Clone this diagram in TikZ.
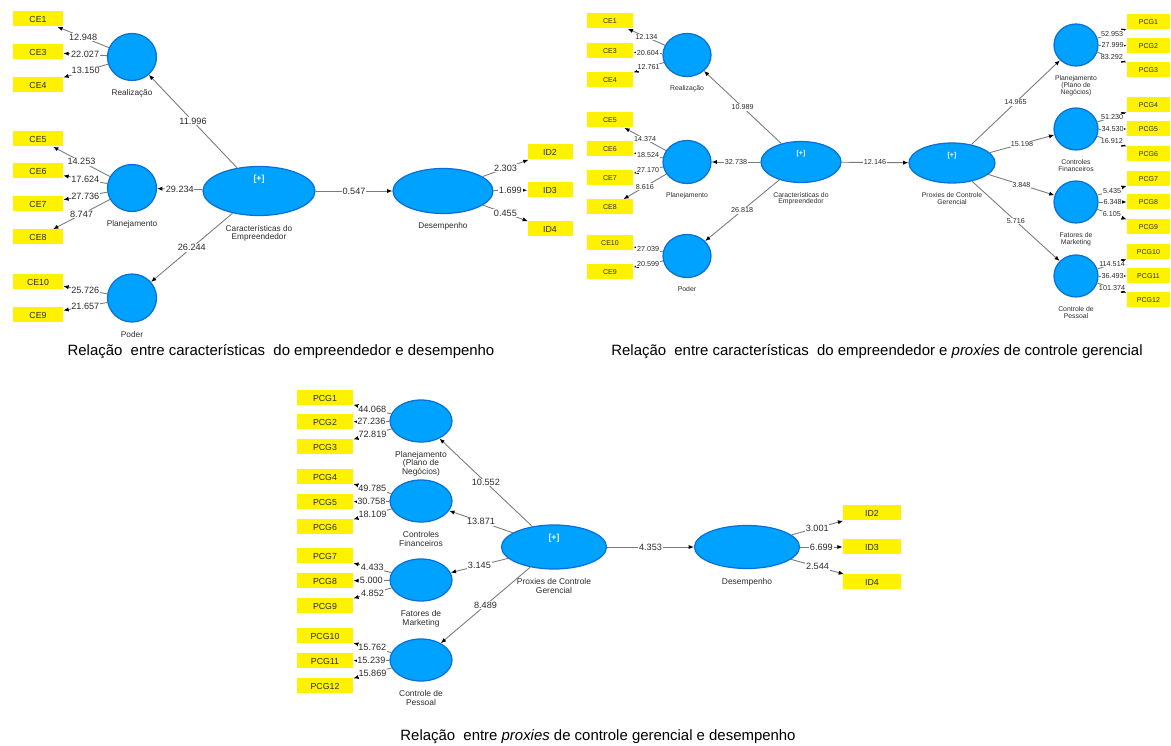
\documentclass[tikz,border=0pt]{standalone}
\usepackage{fontspec}
\setmainfont{Liberation Sans}
\usetikzlibrary{arrows.meta,shapes.geometric}
\definecolor{lvBlue}{HTML}{00A2FF}
\definecolor{lvEdge}{HTML}{0A6FD6}
\definecolor{indYellow}{HTML}{FFF200}
\definecolor{pathGray}{HTML}{7A7A7A}
\definecolor{txtGray}{HTML}{2B2B2B}

\begin{document}
\begin{tikzpicture}[x=0.02cm, y=-0.02cm,
    lv/.style 2 args={ellipse, draw=lvEdge, fill=lvBlue, line width=0.7pt, minimum width=#1*0.02cm, minimum height=#2*0.02cm, inner sep=0pt},
    ind/.style 2 args={fill=indYellow, minimum width=#1*0.02cm, minimum height=15*0.02cm, inner sep=0pt, text=txtGray, font=\fontsize{#2}{#2}\selectfont},
    num/.style={fill=white, inner sep=0.4pt, text=txtGray, font=\fontsize{#1}{#1}\selectfont},
    lvlab/.style={align=center, text=txtGray, label distance=1.5pt, font=\fontsize{#1}{#1pt+1.6pt}\selectfont},
    plus/.style={anchor=north, yshift=-2pt, text=white, font=\bfseries\fontsize{#1}{#1}\selectfont},
    load/.style={draw=pathGray, line width=0.5pt, -{Latex[length=3pt,width=2.4pt,color=black]}},
    caption/.style={font=\fontsize{8.5}{10}\selectfont}]
  \useasboundingbox (0,0) rectangle (1171,746);

  % caracteristicas -> desempenho
  \foreach \n/\t/\y in {ce1/CE1/19, ce3/CE3/52, ce4/CE4/85, ce5/CE5/139, ce6/CE6/171, ce7/CE7/204, ce8/CE8/237, ce10/CE10/282, ce9/CE9/315}
    \node[ind={50}{5}] (a-\n) at (38,\y) {\t};
  \node[lv={49}{47}, label={[lvlab=4.7]below:Realização}] (a-real) at (132,57) {};
  \node[lv={49}{47}, label={[lvlab=4.7]below:Planejamento}] (a-plan) at (132,188) {};
  \node[lv={49}{48}, label={[lvlab=4.7]below:Poder}] (a-pod) at (132,298) {};
  \node[lv={112}{49}, label={[plus=5]north:{[+]}}, label={[lvlab=4.7]below:{Características do\\Empreendedor}}] (a-car) at (259,191) {};
  \node[lv={100}{45}, label={[lvlab=4.7]below:Desempenho}] (a-des) at (443,191) {};
  \foreach \n/\t/\y in {id2/ID2/152, id3/ID3/190, id4/ID4/229}
    \node[ind={45}{5}] (a-\n) at (550,\y) {\t};
  \foreach \a/\b/\v in {car/real/11.996, car/plan/29.234, car/pod/26.244, car/des/0.547,
      real/ce1/12.948, real/ce3/22.027, real/ce4/13.150,
      plan/ce5/14.253, plan/ce6/17.624, plan/ce7/27.736, plan/ce8/8.747,
      pod/ce10/25.726, pod/ce9/21.657,
      des/id2/2.303, des/id3/1.699, des/id4/0.455}
    \draw[load] (a-\a) -- node[num=5.2] {\v} (a-\b);
  \node[caption] (cap1) at (281,352) {Relação \ entre características \ do empreendedor e desempenho};

  % caracteristicas -> proxies
  \foreach \n/\t/\y in {ce1/CE1/21, ce3/CE3/51, ce4/CE4/80, ce5/CE5/120, ce6/CE6/149, ce7/CE7/178, ce8/CE8/207, ce10/CE10/243, ce9/CE9/272}
    \node[ind={46}{4}] (b-\n) at (610,\y) {\t};
  \node[lv={48}{43}, label={[lvlab=3.9]below:Realização}] (b-real) at (687,55) {};
  \node[lv={48}{43}, label={[lvlab=3.9]below:Planejamento}] (b-plan) at (687,162) {};
  \node[lv={48}{43}, label={[lvlab=3.9]below:Poder}] (b-pod) at (687,256) {};
  \node[lv={80}{41}, label={[plus=4]north:{[+]}}, label={[lvlab=3.9]below:{Características do\\Empreendedor}}] (b-car) at (801,162) {};
  \node[lv={86}{40}, label={[plus=4]north:{[+]}}, label={[lvlab=3.9]below:{Proxies de Controle\\Gerencial}}] (b-prx) at (952,163) {};
  \node[lv={44}{42}, label={[lvlab=3.9]below:{Planejamento\\(Plano de\\Negócios)}}] (b-pn) at (1076,45) {};
  \node[lv={44}{42}, label={[lvlab=3.9]below:{Controles\\Financeiros}}] (b-cf) at (1076,129) {};
  \node[lv={44}{42}, label={[lvlab=3.9]below:{Fatores de\\Marketing}}] (b-fm) at (1076,202) {};
  \node[lv={44}{42}, label={[lvlab=3.9]below:{Controle de\\Pessoal}}] (b-cp) at (1076,276) {};
  \foreach \n/\t/\y in {pcg1/PCG1/22, pcg2/PCG2/46, pcg3/PCG3/70, pcg4/PCG4/105, pcg5/PCG5/129, pcg6/PCG6/154,
      pcg7/PCG7/179, pcg8/PCG8/202, pcg9/PCG9/227, pcg10/PCG10/252, pcg11/PCG11/276, pcg12/PCG12/300}
    \node[ind={43}{4}] (b-\n) at (1148.5,\y) {\t};
  \foreach \a/\b/\v in {car/real/10.989, car/plan/32.738, car/pod/26.818, car/prx/12.146,
      prx/pn/14.965, prx/cf/15.198, prx/fm/3.848, prx/cp/5.716,
      real/ce1/12.134, real/ce3/20.604, real/ce4/12.761,
      plan/ce5/14.374, plan/ce6/18.524, plan/ce7/27.170, plan/ce8/8.616,
      pod/ce10/27.039, pod/ce9/20.599,
      pn/pcg1/52.953, pn/pcg2/27.999, pn/pcg3/83.292,
      cf/pcg4/51.230, cf/pcg5/34.530, cf/pcg6/16.912,
      fm/pcg7/5.435, fm/pcg8/6.348, fm/pcg9/6.105,
      cp/pcg10/114.514, cp/pcg11/36.493, cp/pcg12/101.374}
    \draw[load] (b-\a) -- node[num=4.1] {\v} (b-\b);
  \node[caption] (cap2) at (877,352) {Relação \ entre características \ do empreendedor e \textit{proxies} de controle gerencial};

  % proxies -> desempenho
  \foreach \n/\t/\y in {pcg1/PCG1/398, pcg2/PCG2/422, pcg3/PCG3/447, pcg4/PCG4/477, pcg5/PCG5/502, pcg6/PCG6/527,
      pcg7/PCG7/556, pcg8/PCG8/581, pcg9/PCG9/606, pcg10/PCG10/636, pcg11/PCG11/661, pcg12/PCG12/686}
    \node[ind={56}{5}] (c-\n) at (325,\y) {\t};
  \node[lv={62}{42}, label={[lvlab=4.8]below:{Planejamento\\(Plano de\\Negócios)}}] (c-pn) at (421,421) {};
  \node[lv={62}{42}, label={[lvlab=4.8]below:{Controles\\Financeiros}}] (c-cf) at (421,501) {};
  \node[lv={62}{42}, label={[lvlab=4.8]below:{Fatores de\\Marketing}}] (c-fm) at (421,580) {};
  \node[lv={62}{42}, label={[lvlab=4.8]below:{Controle de\\Pessoal}}] (c-cp) at (421,660) {};
  \node[lv={105}{44}, label={[plus=5]north:{[+]}}, label={[lvlab=4.8]below:{Proxies de Controle\\Gerencial}}] (c-prx) at (554,547) {};
  \node[lv={105}{43}, label={[lvlab=4.8]below:Desempenho}] (c-des) at (747,547) {};
  \foreach \n/\t/\y in {id2/ID2/513, id3/ID3/547, id4/ID4/582}
    \node[ind={58}{5}] (c-\n) at (872,\y) {\t};
  \foreach \a/\b/\v in {prx/pn/10.552, prx/cf/13.871, prx/fm/3.145, prx/cp/8.489, prx/des/4.353,
      pn/pcg1/44.068, pn/pcg2/27.236, pn/pcg3/72.819,
      cf/pcg4/49.785, cf/pcg5/30.758, cf/pcg6/18.109,
      fm/pcg7/4.433, fm/pcg8/5.000, fm/pcg9/4.852,
      cp/pcg10/15.762, cp/pcg11/15.239, cp/pcg12/15.869,
      des/id2/3.001, des/id3/6.699, des/id4/2.544}
    \draw[load] (c-\a) -- node[num=5.2] {\v} (c-\b);
  \node[caption] (cap3) at (598,737) {Relação \ entre \textit{proxies} de controle gerencial e desempenho};
\end{tikzpicture}
\end{document}
